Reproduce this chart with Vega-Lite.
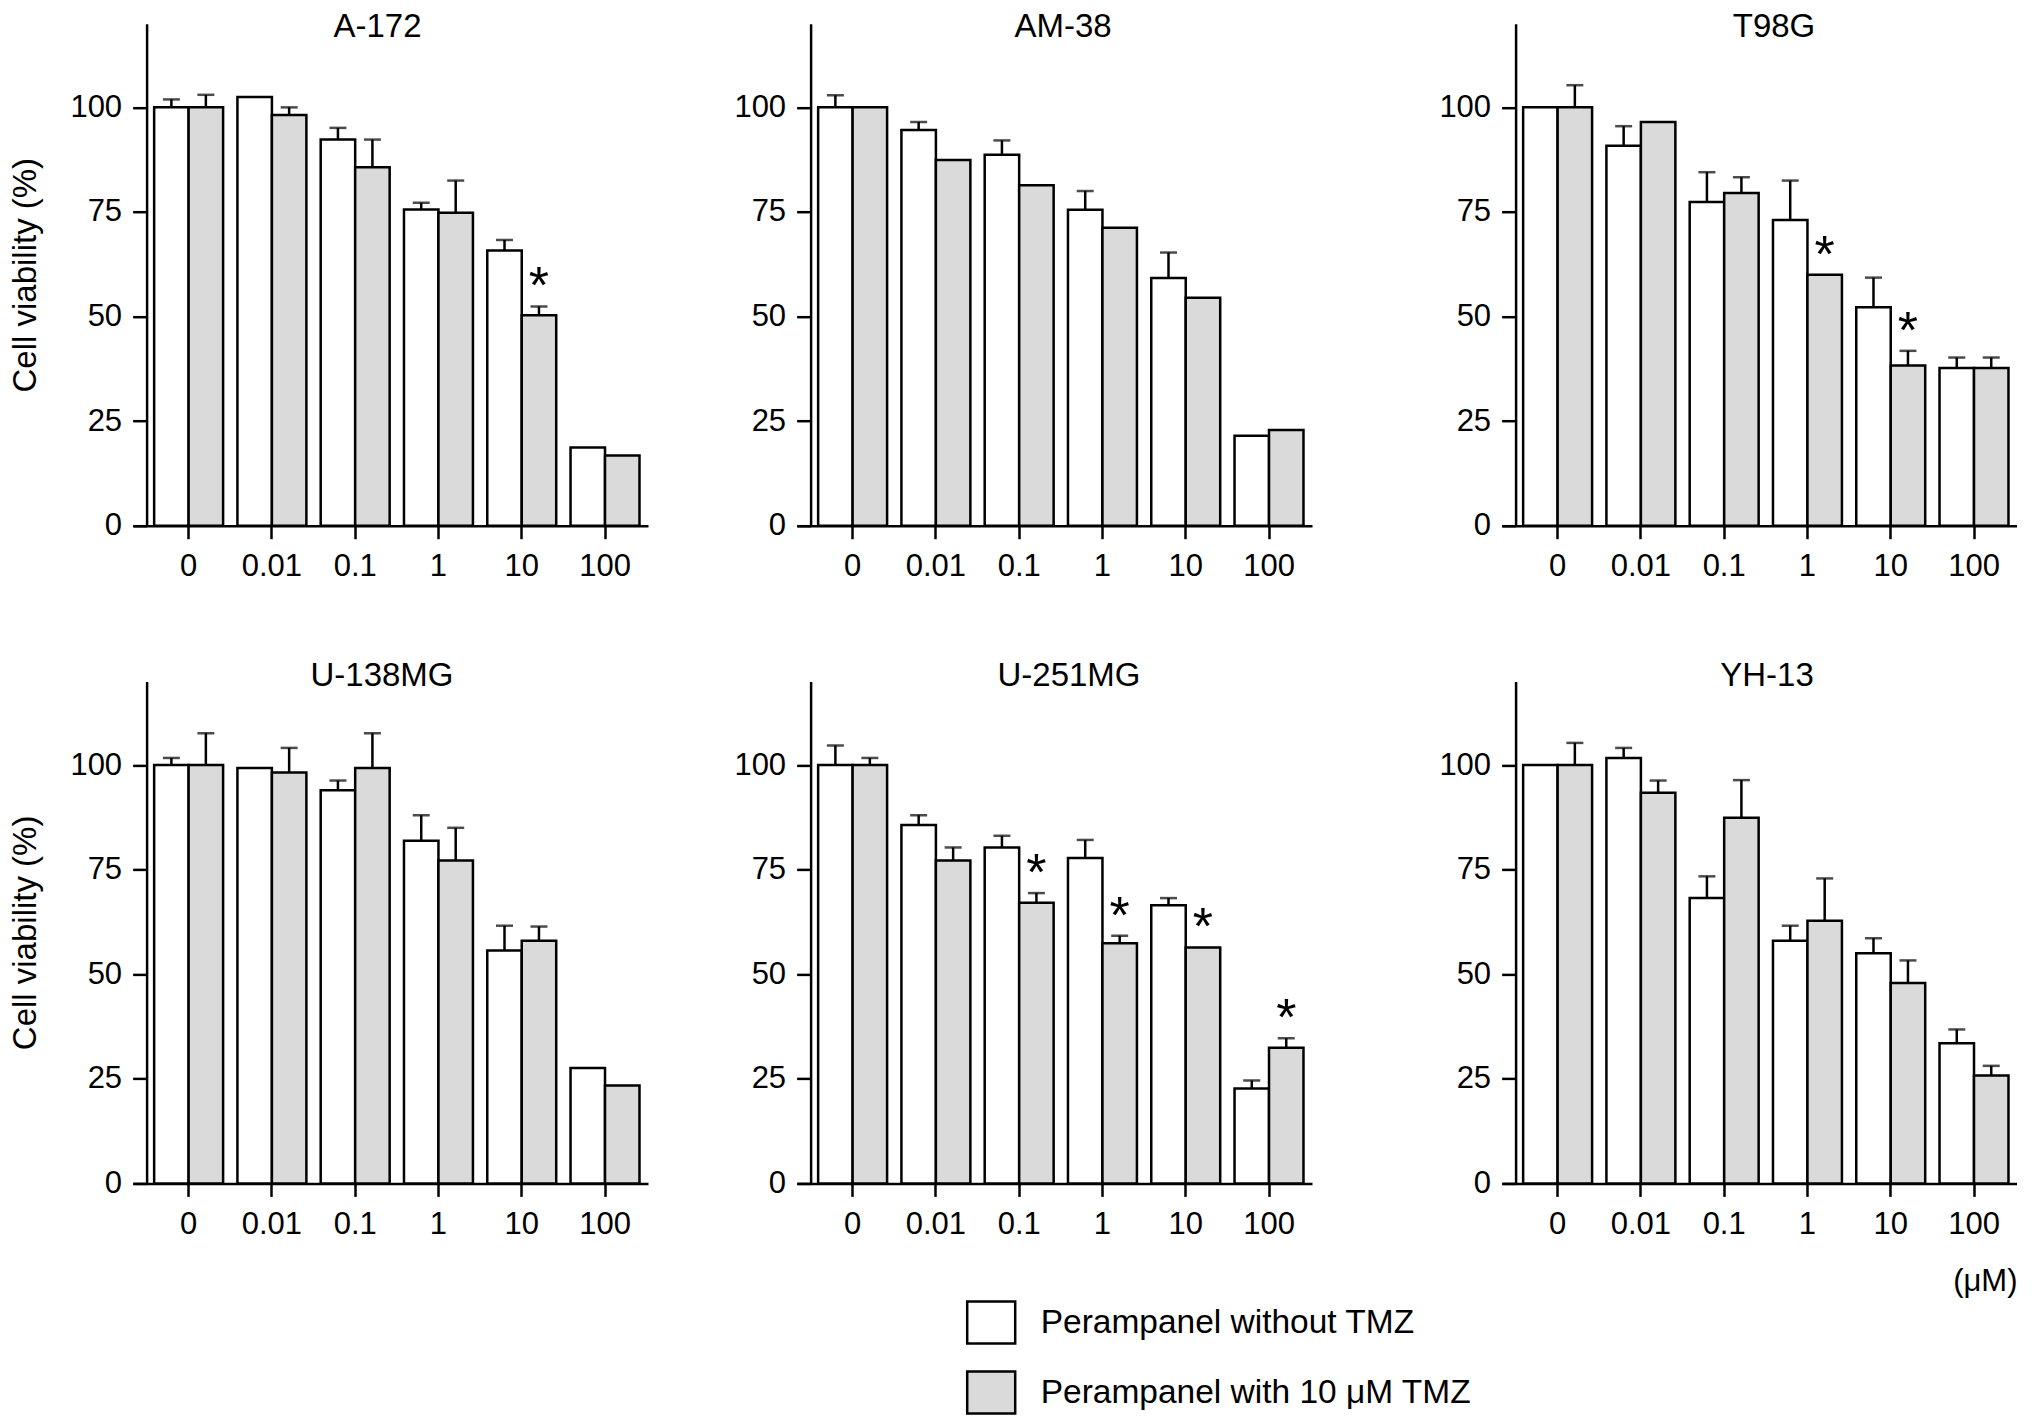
{
  "$schema": "https://vega.github.io/schema/vega-lite/v6.json",
  "padding": {"left": 9, "top": 10.7, "right": 0, "bottom": 0},
  "background": "white",
  "datasets": {
    "cv": [
      {"cell": "A-172", "conc": "0", "group": "Perampanel without TMZ", "value": 100, "err": 1.9, "s": 0},
      {"cell": "A-172", "conc": "0", "group": "Perampanel with 10 μM TMZ", "value": 100, "err": 3.0, "s": 0},
      {"cell": "A-172", "conc": "0.01", "group": "Perampanel without TMZ", "value": 102.5, "err": 0, "s": 0},
      {"cell": "A-172", "conc": "0.01", "group": "Perampanel with 10 μM TMZ", "value": 98.2, "err": 1.8, "s": 0},
      {"cell": "A-172", "conc": "0.1", "group": "Perampanel without TMZ", "value": 92.3, "err": 2.8, "s": 0},
      {"cell": "A-172", "conc": "0.1", "group": "Perampanel with 10 μM TMZ", "value": 85.7, "err": 6.6, "s": 0},
      {"cell": "A-172", "conc": "1", "group": "Perampanel without TMZ", "value": 75.6, "err": 1.6, "s": 0},
      {"cell": "A-172", "conc": "1", "group": "Perampanel with 10 μM TMZ", "value": 74.8, "err": 7.7, "s": 0},
      {"cell": "A-172", "conc": "10", "group": "Perampanel without TMZ", "value": 65.8, "err": 2.5, "s": 0},
      {"cell": "A-172", "conc": "10", "group": "Perampanel with 10 μM TMZ", "value": 50.3, "err": 2.1, "s": 1},
      {"cell": "A-172", "conc": "100", "group": "Perampanel without TMZ", "value": 18.7, "err": 0, "s": 0},
      {"cell": "A-172", "conc": "100", "group": "Perampanel with 10 μM TMZ", "value": 16.8, "err": 0, "s": 0},

      {"cell": "AM-38", "conc": "0", "group": "Perampanel without TMZ", "value": 100, "err": 2.9, "s": 0},
      {"cell": "AM-38", "conc": "0", "group": "Perampanel with 10 μM TMZ", "value": 100, "err": 0, "s": 0},
      {"cell": "AM-38", "conc": "0.01", "group": "Perampanel without TMZ", "value": 94.6, "err": 1.9, "s": 0},
      {"cell": "AM-38", "conc": "0.01", "group": "Perampanel with 10 μM TMZ", "value": 87.4, "err": 0, "s": 0},
      {"cell": "AM-38", "conc": "0.1", "group": "Perampanel without TMZ", "value": 88.7, "err": 3.4, "s": 0},
      {"cell": "AM-38", "conc": "0.1", "group": "Perampanel with 10 μM TMZ", "value": 81.4, "err": 0, "s": 0},
      {"cell": "AM-38", "conc": "1", "group": "Perampanel without TMZ", "value": 75.5, "err": 4.5, "s": 0},
      {"cell": "AM-38", "conc": "1", "group": "Perampanel with 10 μM TMZ", "value": 71.2, "err": 0, "s": 0},
      {"cell": "AM-38", "conc": "10", "group": "Perampanel without TMZ", "value": 59.2, "err": 6.1, "s": 0},
      {"cell": "AM-38", "conc": "10", "group": "Perampanel with 10 μM TMZ", "value": 54.5, "err": 0, "s": 0},
      {"cell": "AM-38", "conc": "100", "group": "Perampanel without TMZ", "value": 21.5, "err": 0, "s": 0},
      {"cell": "AM-38", "conc": "100", "group": "Perampanel with 10 μM TMZ", "value": 22.9, "err": 0, "s": 0},

      {"cell": "T98G", "conc": "0", "group": "Perampanel without TMZ", "value": 100, "err": 0, "s": 0},
      {"cell": "T98G", "conc": "0", "group": "Perampanel with 10 μM TMZ", "value": 100, "err": 5.3, "s": 0},
      {"cell": "T98G", "conc": "0.01", "group": "Perampanel without TMZ", "value": 90.8, "err": 4.7, "s": 0},
      {"cell": "T98G", "conc": "0.01", "group": "Perampanel with 10 μM TMZ", "value": 96.5, "err": 0, "s": 0},
      {"cell": "T98G", "conc": "0.1", "group": "Perampanel without TMZ", "value": 77.4, "err": 7.1, "s": 0},
      {"cell": "T98G", "conc": "0.1", "group": "Perampanel with 10 μM TMZ", "value": 79.5, "err": 3.8, "s": 0},
      {"cell": "T98G", "conc": "1", "group": "Perampanel without TMZ", "value": 73.1, "err": 9.4, "s": 0},
      {"cell": "T98G", "conc": "1", "group": "Perampanel with 10 μM TMZ", "value": 60.0, "err": 0, "s": 1},
      {"cell": "T98G", "conc": "10", "group": "Perampanel without TMZ", "value": 52.2, "err": 7.1, "s": 0},
      {"cell": "T98G", "conc": "10", "group": "Perampanel with 10 μM TMZ", "value": 38.3, "err": 3.5, "s": 1},
      {"cell": "T98G", "conc": "100", "group": "Perampanel without TMZ", "value": 37.7, "err": 2.5, "s": 0},
      {"cell": "T98G", "conc": "100", "group": "Perampanel with 10 μM TMZ", "value": 37.7, "err": 2.5, "s": 0},

      {"cell": "U-138MG", "conc": "0", "group": "Perampanel without TMZ", "value": 100, "err": 1.7, "s": 0},
      {"cell": "U-138MG", "conc": "0", "group": "Perampanel with 10 μM TMZ", "value": 100, "err": 7.6, "s": 0},
      {"cell": "U-138MG", "conc": "0.01", "group": "Perampanel without TMZ", "value": 99.3, "err": 0, "s": 0},
      {"cell": "U-138MG", "conc": "0.01", "group": "Perampanel with 10 μM TMZ", "value": 98.2, "err": 5.9, "s": 0},
      {"cell": "U-138MG", "conc": "0.1", "group": "Perampanel without TMZ", "value": 94.0, "err": 2.3, "s": 0},
      {"cell": "U-138MG", "conc": "0.1", "group": "Perampanel with 10 μM TMZ", "value": 99.3, "err": 8.3, "s": 0},
      {"cell": "U-138MG", "conc": "1", "group": "Perampanel without TMZ", "value": 81.9, "err": 6.1, "s": 0},
      {"cell": "U-138MG", "conc": "1", "group": "Perampanel with 10 μM TMZ", "value": 77.2, "err": 7.8, "s": 0},
      {"cell": "U-138MG", "conc": "10", "group": "Perampanel without TMZ", "value": 55.7, "err": 5.9, "s": 0},
      {"cell": "U-138MG", "conc": "10", "group": "Perampanel with 10 μM TMZ", "value": 58.0, "err": 3.4, "s": 0},
      {"cell": "U-138MG", "conc": "100", "group": "Perampanel without TMZ", "value": 27.6, "err": 0, "s": 0},
      {"cell": "U-138MG", "conc": "100", "group": "Perampanel with 10 μM TMZ", "value": 23.4, "err": 0, "s": 0},

      {"cell": "U-251MG", "conc": "0", "group": "Perampanel without TMZ", "value": 100, "err": 4.7, "s": 0},
      {"cell": "U-251MG", "conc": "0", "group": "Perampanel with 10 μM TMZ", "value": 100, "err": 1.7, "s": 0},
      {"cell": "U-251MG", "conc": "0.01", "group": "Perampanel without TMZ", "value": 85.7, "err": 2.3, "s": 0},
      {"cell": "U-251MG", "conc": "0.01", "group": "Perampanel with 10 μM TMZ", "value": 77.2, "err": 3.1, "s": 0},
      {"cell": "U-251MG", "conc": "0.1", "group": "Perampanel without TMZ", "value": 80.3, "err": 2.8, "s": 0},
      {"cell": "U-251MG", "conc": "0.1", "group": "Perampanel with 10 μM TMZ", "value": 67.1, "err": 2.3, "s": 1},
      {"cell": "U-251MG", "conc": "1", "group": "Perampanel without TMZ", "value": 77.8, "err": 4.3, "s": 0},
      {"cell": "U-251MG", "conc": "1", "group": "Perampanel with 10 μM TMZ", "value": 57.4, "err": 1.8, "s": 1},
      {"cell": "U-251MG", "conc": "10", "group": "Perampanel without TMZ", "value": 66.5, "err": 1.7, "s": 0},
      {"cell": "U-251MG", "conc": "10", "group": "Perampanel with 10 μM TMZ", "value": 56.4, "err": 0, "s": 1},
      {"cell": "U-251MG", "conc": "100", "group": "Perampanel without TMZ", "value": 22.7, "err": 1.9, "s": 0},
      {"cell": "U-251MG", "conc": "100", "group": "Perampanel with 10 μM TMZ", "value": 32.4, "err": 2.3, "s": 1},

      {"cell": "YH-13", "conc": "0", "group": "Perampanel without TMZ", "value": 100, "err": 0, "s": 0},
      {"cell": "YH-13", "conc": "0", "group": "Perampanel with 10 μM TMZ", "value": 100, "err": 5.3, "s": 0},
      {"cell": "YH-13", "conc": "0.01", "group": "Perampanel without TMZ", "value": 101.7, "err": 2.4, "s": 0},
      {"cell": "YH-13", "conc": "0.01", "group": "Perampanel with 10 μM TMZ", "value": 93.4, "err": 2.9, "s": 0},
      {"cell": "YH-13", "conc": "0.1", "group": "Perampanel without TMZ", "value": 68.2, "err": 5.2, "s": 0},
      {"cell": "YH-13", "conc": "0.1", "group": "Perampanel with 10 μM TMZ", "value": 87.4, "err": 9.0, "s": 0},
      {"cell": "YH-13", "conc": "1", "group": "Perampanel without TMZ", "value": 58.0, "err": 3.6, "s": 0},
      {"cell": "YH-13", "conc": "1", "group": "Perampanel with 10 μM TMZ", "value": 62.8, "err": 10.1, "s": 0},
      {"cell": "YH-13", "conc": "10", "group": "Perampanel without TMZ", "value": 55.0, "err": 3.6, "s": 0},
      {"cell": "YH-13", "conc": "10", "group": "Perampanel with 10 μM TMZ", "value": 47.9, "err": 5.4, "s": 0},
      {"cell": "YH-13", "conc": "100", "group": "Perampanel without TMZ", "value": 33.5, "err": 3.3, "s": 0},
      {"cell": "YH-13", "conc": "100", "group": "Perampanel with 10 μM TMZ", "value": 25.8, "err": 2.3, "s": 0}
    ]
  },
  "data": {"name": "cv"},
  "columns": 3,
  "bounds": "flush",
  "spacing": {"row": 155.7, "column": 149},
  "concat": [
    {
      "width": 515, "height": 502,
      "title": {"text": "A-172", "dx": -13, "offset": -20.7},
      "transform": [{"filter": "datum.cell == 'A-172'"}, {"calculate": "datum.value + datum.err", "as": "hi"}],
      "encoding": {
        "x": {"field": "conc", "type": "nominal", "title": null, "scale": {"domain": ["0", "0.01", "0.1", "1", "10", "100"], "paddingInner": 0.172, "paddingOuter": 0.178, "align": 0.713}},
        "xOffset": {"field": "group", "type": "nominal", "scale": {"domain": ["Perampanel without TMZ", "Perampanel with 10 μM TMZ"]}}
      },
      "layer": [
        {"mark": {"type": "bar", "stroke": "black", "strokeWidth": 2.5},
         "encoding": {
           "y": {"field": "value", "type": "quantitative", "title": "Cell viability (%)", "scale": {"domain": [0, 120], "nice": false}, "axis": {"values": [0, 25, 50, 75, 100]}},
           "fill": {"field": "group", "type": "nominal", "scale": {"domain": ["Perampanel without TMZ", "Perampanel with 10 μM TMZ"], "range": ["#ffffff", "#dadada"]}}}},
        {"transform": [{"filter": "datum.err > 0"}], "mark": {"type": "rule", "color": "black", "strokeWidth": 2.5},
         "encoding": {"y": {"field": "value", "type": "quantitative", "title": "Cell viability (%)"}, "y2": {"field": "hi"}}},
        {"transform": [{"filter": "datum.err > 0"}], "mark": {"type": "tick", "color": "black", "thickness": 2.5, "size": 17},
         "encoding": {"y": {"field": "hi", "type": "quantitative", "title": "Cell viability (%)"}}},
        {"transform": [{"filter": "datum.s == 1"}], "mark": {"type": "text", "text": "*", "fontSize": 52, "baseline": "alphabetic", "dy": -3, "color": "black"},
         "encoding": {"y": {"field": "hi", "type": "quantitative", "title": "Cell viability (%)"}}}
      ]
    },
    {
      "width": 556, "height": 502,
      "title": {"text": "AM-38", "dx": -12, "offset": -20.7},
      "transform": [{"filter": "datum.cell == 'AM-38'"}, {"calculate": "datum.value + datum.err", "as": "hi"}],
      "encoding": {
        "x": {"field": "conc", "type": "nominal", "title": null, "scale": {"domain": ["0", "0.01", "0.1", "1", "10", "100"], "range": [0, 515], "paddingInner": 0.172, "paddingOuter": 0.178, "align": 0.713}},
        "xOffset": {"field": "group", "type": "nominal", "scale": {"domain": ["Perampanel without TMZ", "Perampanel with 10 μM TMZ"]}}
      },
      "layer": [
        {"mark": {"type": "bar", "stroke": "black", "strokeWidth": 2.5},
         "encoding": {
           "y": {"field": "value", "type": "quantitative", "title": null, "scale": {"domain": [0, 120], "nice": false}, "axis": {"values": [0, 25, 50, 75, 100]}},
           "fill": {"field": "group", "type": "nominal", "scale": {"domain": ["Perampanel without TMZ", "Perampanel with 10 μM TMZ"], "range": ["#ffffff", "#dadada"]}}}},
        {"transform": [{"filter": "datum.err > 0"}], "mark": {"type": "rule", "color": "black", "strokeWidth": 2.5},
         "encoding": {"y": {"field": "value", "type": "quantitative", "title": null}, "y2": {"field": "hi"}}},
        {"transform": [{"filter": "datum.err > 0"}], "mark": {"type": "tick", "color": "black", "thickness": 2.5, "size": 17},
         "encoding": {"y": {"field": "hi", "type": "quantitative", "title": null}}}
      ]
    },
    {
      "width": 515, "height": 502,
      "title": {"text": "T98G", "dx": 14.5, "offset": -20.7},
      "transform": [{"filter": "datum.cell == 'T98G'"}, {"calculate": "datum.value + datum.err", "as": "hi"}],
      "encoding": {
        "x": {"field": "conc", "type": "nominal", "title": null, "scale": {"domain": ["0", "0.01", "0.1", "1", "10", "100"], "paddingInner": 0.172, "paddingOuter": 0.178, "align": 0.713}},
        "xOffset": {"field": "group", "type": "nominal", "scale": {"domain": ["Perampanel without TMZ", "Perampanel with 10 μM TMZ"]}}
      },
      "layer": [
        {"mark": {"type": "bar", "stroke": "black", "strokeWidth": 2.5},
         "encoding": {
           "y": {"field": "value", "type": "quantitative", "title": null, "scale": {"domain": [0, 120], "nice": false}, "axis": {"values": [0, 25, 50, 75, 100]}},
           "fill": {"field": "group", "type": "nominal", "scale": {"domain": ["Perampanel without TMZ", "Perampanel with 10 μM TMZ"], "range": ["#ffffff", "#dadada"]}}}},
        {"transform": [{"filter": "datum.err > 0"}], "mark": {"type": "rule", "color": "black", "strokeWidth": 2.5},
         "encoding": {"y": {"field": "value", "type": "quantitative", "title": null}, "y2": {"field": "hi"}}},
        {"transform": [{"filter": "datum.err > 0"}], "mark": {"type": "tick", "color": "black", "thickness": 2.5, "size": 17},
         "encoding": {"y": {"field": "hi", "type": "quantitative", "title": null}}},
        {"transform": [{"filter": "datum.s == 1"}], "mark": {"type": "text", "text": "*", "fontSize": 52, "baseline": "alphabetic", "dy": -3, "color": "black"},
         "encoding": {"y": {"field": "hi", "type": "quantitative", "title": null}}}
      ]
    },
    {
      "width": 515, "height": 502,
      "title": {"text": "U-138MG", "dx": -8.5, "offset": -11.7},
      "transform": [{"filter": "datum.cell == 'U-138MG'"}, {"calculate": "datum.value + datum.err", "as": "hi"}],
      "encoding": {
        "x": {"field": "conc", "type": "nominal", "title": null, "scale": {"domain": ["0", "0.01", "0.1", "1", "10", "100"], "paddingInner": 0.172, "paddingOuter": 0.178, "align": 0.713}},
        "xOffset": {"field": "group", "type": "nominal", "scale": {"domain": ["Perampanel without TMZ", "Perampanel with 10 μM TMZ"]}}
      },
      "layer": [
        {"mark": {"type": "bar", "stroke": "black", "strokeWidth": 2.5},
         "encoding": {
           "y": {"field": "value", "type": "quantitative", "title": "Cell viability (%)", "scale": {"domain": [0, 120], "nice": false}, "axis": {"values": [0, 25, 50, 75, 100]}},
           "fill": {"field": "group", "type": "nominal", "scale": {"domain": ["Perampanel without TMZ", "Perampanel with 10 μM TMZ"], "range": ["#ffffff", "#dadada"]}}}},
        {"transform": [{"filter": "datum.err > 0"}], "mark": {"type": "rule", "color": "black", "strokeWidth": 2.5},
         "encoding": {"y": {"field": "value", "type": "quantitative", "title": "Cell viability (%)"}, "y2": {"field": "hi"}}},
        {"transform": [{"filter": "datum.err > 0"}], "mark": {"type": "tick", "color": "black", "thickness": 2.5, "size": 17},
         "encoding": {"y": {"field": "hi", "type": "quantitative", "title": "Cell viability (%)"}}}
      ]
    },
    {
      "width": 556, "height": 502,
      "title": {"text": "U-251MG", "dx": -6, "offset": -11.7},
      "transform": [{"filter": "datum.cell == 'U-251MG'"}, {"calculate": "datum.value + datum.err", "as": "hi"}],
      "encoding": {
        "x": {"field": "conc", "type": "nominal", "title": null, "scale": {"domain": ["0", "0.01", "0.1", "1", "10", "100"], "range": [0, 515], "paddingInner": 0.172, "paddingOuter": 0.178, "align": 0.713}},
        "xOffset": {"field": "group", "type": "nominal", "scale": {"domain": ["Perampanel without TMZ", "Perampanel with 10 μM TMZ"]}}
      },
      "layer": [
        {"mark": {"type": "bar", "stroke": "black", "strokeWidth": 2.5},
         "encoding": {
           "y": {"field": "value", "type": "quantitative", "title": null, "scale": {"domain": [0, 120], "nice": false}, "axis": {"values": [0, 25, 50, 75, 100]}},
           "fill": {"field": "group", "type": "nominal", "scale": {"domain": ["Perampanel without TMZ", "Perampanel with 10 μM TMZ"], "range": ["#ffffff", "#dadada"]}}}},
        {"transform": [{"filter": "datum.err > 0"}], "mark": {"type": "rule", "color": "black", "strokeWidth": 2.5},
         "encoding": {"y": {"field": "value", "type": "quantitative", "title": null}, "y2": {"field": "hi"}}},
        {"transform": [{"filter": "datum.err > 0"}], "mark": {"type": "tick", "color": "black", "thickness": 2.5, "size": 17},
         "encoding": {"y": {"field": "hi", "type": "quantitative", "title": null}}},
        {"transform": [{"filter": "datum.s == 1"}], "mark": {"type": "text", "text": "*", "fontSize": 52, "baseline": "alphabetic", "dy": -3, "color": "black"},
         "encoding": {"y": {"field": "hi", "type": "quantitative", "title": null}}}
      ]
    },
    {
      "width": 515, "height": 502,
      "title": {"text": "YH-13", "dx": 7.5, "offset": -11.7},
      "transform": [{"filter": "datum.cell == 'YH-13'"}, {"calculate": "datum.value + datum.err", "as": "hi"}],
      "encoding": {
        "x": {"field": "conc", "type": "nominal", "title": "(μM)", "axis": {"titleX": 515, "titleY": 107, "titleAlign": "right", "titleBaseline": "alphabetic", "titleFontSize": 31, "titleFontWeight": "normal", "titleColor": "black"}, "scale": {"domain": ["0", "0.01", "0.1", "1", "10", "100"], "paddingInner": 0.172, "paddingOuter": 0.178, "align": 0.713}},
        "xOffset": {"field": "group", "type": "nominal", "scale": {"domain": ["Perampanel without TMZ", "Perampanel with 10 μM TMZ"]}}
      },
      "layer": [
        {"mark": {"type": "bar", "stroke": "black", "strokeWidth": 2.5},
         "encoding": {
           "y": {"field": "value", "type": "quantitative", "title": null, "scale": {"domain": [0, 120], "nice": false}, "axis": {"values": [0, 25, 50, 75, 100]}},
           "fill": {"field": "group", "type": "nominal", "scale": {"domain": ["Perampanel without TMZ", "Perampanel with 10 μM TMZ"], "range": ["#ffffff", "#dadada"]}}}},
        {"transform": [{"filter": "datum.err > 0"}], "mark": {"type": "rule", "color": "black", "strokeWidth": 2.5},
         "encoding": {"y": {"field": "value", "type": "quantitative", "title": null}, "y2": {"field": "hi"}}},
        {"transform": [{"filter": "datum.err > 0"}], "mark": {"type": "tick", "color": "black", "thickness": 2.5, "size": 17},
         "encoding": {"y": {"field": "hi", "type": "quantitative", "title": null}}}
      ]
    }
  ],
  "config": {
    "font": "Liberation Sans",
    "view": {"stroke": null},
    "title": {"fontSize": 33, "fontWeight": "normal", "color": "black", "baseline": "alphabetic", "frame": "group", "anchor": "middle"},
    "axisX": {"domainColor": "black", "domainWidth": 2.5, "tickColor": "black", "tickWidth": 2.5, "tickSize": 13, "labelFontSize": 31, "labelPadding": 13, "labelColor": "black", "labelAngle": 0, "grid": false},
    "axisY": {"offset": -13.6, "domainColor": "black", "domainWidth": 2.5, "tickColor": "black", "tickWidth": 2.5, "tickSize": 14, "labelFontSize": 31, "labelPadding": 11, "labelColor": "black", "grid": false,
              "titleFontSize": 33, "titleFontWeight": "normal", "titleColor": "black", "titleX": -111, "titleY": 251, "titleBaseline": "alphabetic", "titleAngle": -90},
    "legend": {"orient": "none", "legendX": 832.7, "legendY": 1273.4, "title": null, "padding": 0,
               "symbolType": "M-1,-0.875L1,-0.875L1,0.875L-1,0.875Z", "symbolSize": 2304, "symbolStrokeColor": "black", "symbolStrokeWidth": 2.5,
               "labelFontSize": 33.5, "labelColor": "black", "labelOffset": 24, "rowPadding": 17, "labelLimit": 700}
  }
}
